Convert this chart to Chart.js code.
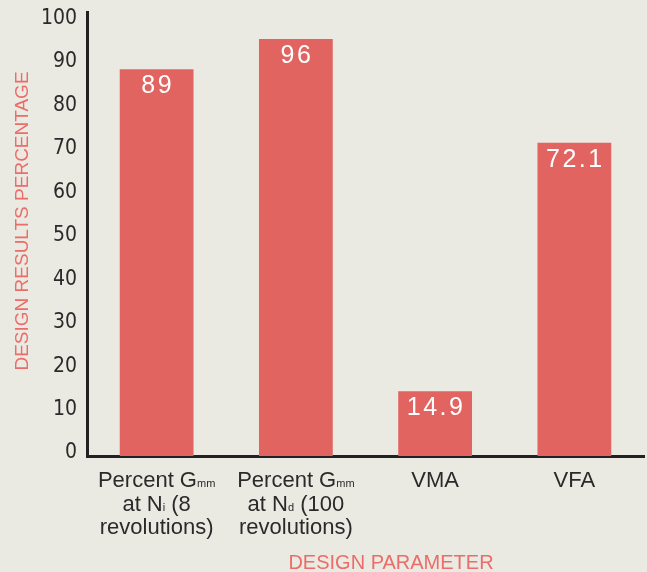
<!DOCTYPE html>
<html>
<head>
<meta charset="utf-8">
<script src="https://cdn.jsdelivr.net/npm/chart.js@4.4.1/dist/chart.umd.min.js"></script>
<style>
  html, body { margin: 0; padding: 0; background: #ebeae2; }
  #wrap { width: 647px; height: 572px; position: relative; }
</style>
</head>
<body>
<div id="wrap"><canvas id="designChart"></canvas></div>
<script>
// chart data
const categories = [
  'Percent Gmm at Ni (8 revolutions)',
  'Percent Gmm at Nd (100 revolutions)',
  'VMA',
  'VFA'
];
// tick label lines, {..} marks the small (subscript-like) part
const categoryLines = [
  ['Percent G{mm}', 'at N{i} (8', 'revolutions)'],
  ['Percent G{mm}', 'at N{d} (100', 'revolutions)'],
  ['VMA'],
  ['VFA']
];
const resultValues = [89, 96, 14.9, 72.1];
const resultLabels = ['89', '96', '14.9', '72.1'];
const yTicks = [0, 10, 20, 30, 40, 50, 60, 70, 80, 90, 100];
const yTitle = 'DESIGN RESULTS PERCENTAGE';
const xTitle = 'DESIGN PARAMETER';

const BAR_COLOR = '#e26461';
const TEXT_COLOR = '#2a2a2a';
const TITLE_COLOR = '#ea6d69';
const AXIS_COLOR = '#222222';

function splitParts(line) {
  const parts = [];
  const re = /\{([^}]*)\}|([^{]+)/g;
  let m;
  while ((m = re.exec(line)) !== null) {
    if (m[1] !== undefined) parts.push({ text: m[1], small: true });
    else parts.push({ text: m[2], small: false });
  }
  return parts;
}

const bigFont = '22px "Liberation Sans", Arial, sans-serif';
const smallFont = '11px "Liberation Sans", Arial, sans-serif';

const customLabels = {
  id: 'customLabels',
  afterDraw(chart) {
    const ctx = chart.ctx;
    const xScale = chart.scales.x;
    const meta = chart.getDatasetMeta(0);
    ctx.save();

    // values inside the bars
    ctx.fillStyle = '#ffffff';
    ctx.font = '25px "Liberation Sans", Arial, sans-serif';
    ctx.textAlign = 'center';
    ctx.textBaseline = 'middle';
    if ('letterSpacing' in ctx) ctx.letterSpacing = '2.5px';
    meta.data.forEach((bar, i) => {
      ctx.fillText(resultLabels[i], bar.x + 1, bar.y + 17);
    });
    if ('letterSpacing' in ctx) ctx.letterSpacing = '0px';

    // category labels with small parts
    ctx.textAlign = 'left';
    ctx.textBaseline = 'alphabetic';
    ctx.fillStyle = TEXT_COLOR;
    categoryLines.forEach((lines, i) => {
      const cx = xScale.getPixelForValue(i);
      lines.forEach((line, j) => {
        const parts = splitParts(line);
        let w = 0;
        parts.forEach(p => {
          ctx.font = p.small ? smallFont : bigFont;
          p.w = ctx.measureText(p.text).width;
          w += p.w;
        });
        let x = cx - w / 2;
        const y = 487 + j * 23.5;
        parts.forEach(p => {
          ctx.font = p.small ? smallFont : bigFont;
          ctx.fillText(p.text, x, y);
          x += p.w;
        });
      });
    });

    // axis titles
    ctx.fillStyle = TITLE_COLOR;
    ctx.textAlign = 'center';
    ctx.textBaseline = 'middle';
    ctx.font = '20px "Liberation Sans", Arial, sans-serif';
    ctx.fillText(xTitle, 391, 563);
    ctx.translate(23, 221);
    ctx.rotate(-Math.PI / 2);
    ctx.font = '19px "Liberation Sans", Arial, sans-serif';
    ctx.fillText(yTitle, 0, 0);
    ctx.restore();
  }
};

const ctx = document.getElementById('designChart').getContext('2d');
new Chart(ctx, {
  type: 'bar',
  data: {
    labels: categories,
    datasets: [{
      data: resultValues,
      backgroundColor: BAR_COLOR,
      borderWidth: 0,
      categoryPercentage: 1,
      barPercentage: 0.53
    }]
  },
  options: {
    responsive: true,
    maintainAspectRatio: false,
    animation: false,
    layout: { padding: { left: 0, top: 12, right: 3, bottom: 0 } },
    plugins: {
      legend: { display: false },
      tooltip: { enabled: false }
    },
    scales: {
      x: {
        grid: { display: false, drawTicks: false },
        border: { display: true, color: AXIS_COLOR, width: 3 },
        ticks: { display: false },
        afterFit: s => { s.height = 116; s.paddingLeft = 0; s.paddingRight = 0; }
      },
      y: {
        min: 0,
        max: 102.2,
        grid: { display: false, drawTicks: false },
        border: { display: true, color: AXIS_COLOR, width: 3 },
        afterBuildTicks: s => { s.ticks = yTicks.map(v => ({ value: v })); },
        ticks: {
          color: TEXT_COLOR,
          padding: 10,
          labelOffset: -3,
          font: { family: '"Liberation Sans Narrow", "DejaVu Sans Condensed", sans-serif', size: 21 }
        },
        afterFit: s => { s.width = 87; s.paddingTop = 0; s.paddingBottom = 0; }
      }
    }
  },
  plugins: [customLabels]
});
</script>
</body>
</html>
